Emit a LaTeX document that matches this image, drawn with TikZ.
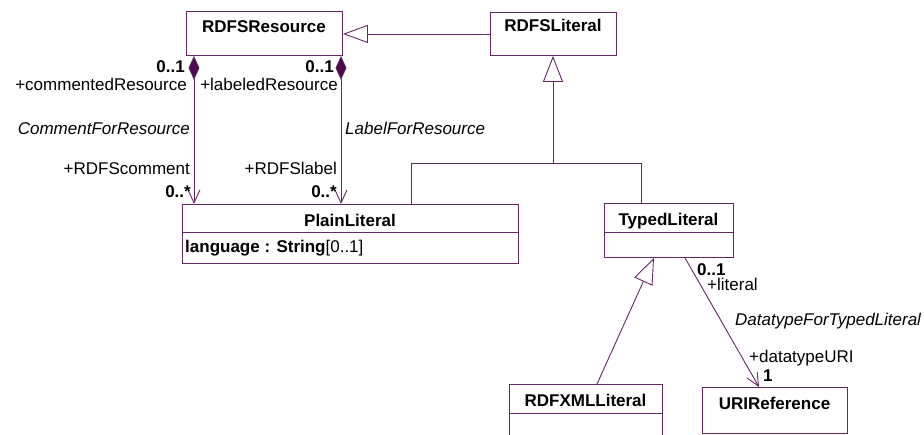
\documentclass[tikz,border=0pt]{standalone}
\usepackage{fontspec}
\setmainfont{Liberation Sans}
\usetikzlibrary{arrows.meta}
\definecolor{umlline}{RGB}{100,40,100}
\definecolor{umlfill}{RGB}{75,10,75}
\begin{document}
\begin{tikzpicture}[x=1pt,y=-1pt,
  font=\fontsize{17}{19}\selectfont,
  cls/.style={draw=umlline, line width=0.9pt, fill=white, inner sep=0pt, anchor=north west},
  ttl/.style={inner sep=0pt, font=\fontsize{17}{19}\selectfont\bfseries},
  lab/.style={inner sep=0pt},
  mult/.style={inner sep=0pt, font=\fontsize{17}{19}\selectfont\bfseries},
  rname/.style={inner sep=0pt, font=\fontsize{17}{19}\selectfont\itshape},
  conn/.style={draw=umlline, line width=0.9pt},
  gen/.style={conn, -{Triangle[open, length=26pt, width=20pt]}},
  nav/.style={conn, -{Straight Barb[length=13pt, width=12pt]}},
  comp/.style={conn, {Diamond[length=24pt, width=11pt, fill=umlfill]}-{Straight Barb[length=13pt, width=12pt]}}
]
\useasboundingbox (0,0) rectangle (924,434);
\begin{scope}
\clip (0,0) rectangle (924,434);
% classes
\node[cls, minimum width=156pt, minimum height=44pt] (res) at (186,11) {};
\node[cls, minimum width=126pt, minimum height=43pt] (lit) at (490,12) {};
\node[cls, minimum width=336pt, minimum height=59pt] (pl) at (182,204) {};
\node[cls, minimum width=129pt, minimum height=54pt] (tl) at (604,203) {};
\node[cls, minimum width=153pt, minimum height=70pt] (xml) at (509,384) {};
\node[cls, minimum width=145pt, minimum height=46pt] (uri) at (702,387) {};
% dividers
\draw[conn] (pl.west |- 0,232) -- (pl.east |- 0,232);
\draw[conn] (tl.west |- 0,232) -- (tl.east |- 0,232);
\draw[conn] (xml.west |- 0,413) -- (xml.east |- 0,413);
% titles
\node[ttl, anchor=base] (resT) at (264,32) {RDFSResource};
\node[ttl, anchor=base] (litT) at (553,31.5) {RDFSLiteral};
\node[ttl, anchor=base] (plT) at (350,226) {PlainLiteral};
\node[ttl, anchor=base] (tlT) at (668.5,225) {TypedLiteral};
\node[ttl, anchor=base] (xmlT) at (585.5,406) {RDFXMLLiteral};
\node[ttl, anchor=base] (uriT) at (774.5,409) {URIReference};
\node[lab, anchor=base west] (attr) at (185,252) {\textbf{language : String}[0..1]};
% generalizations
\draw[gen, -{Triangle[open, length=25pt, width=18pt]}] (lit.west) -- (res.east |- lit.west);
\coordinate (j) at (553,163);
\draw[conn] (pl.north -| 411,0) |- (j);
\draw[conn] (tl.north -| 641,0) |- (j);
\draw[gen] (j) -- (lit.south -| j);
\draw[gen] (xml.north -| 597,0) -- (tl.south -| 654,0);
% associations
\draw[comp] (res.south -| 194,0) -- (pl.north -| 194,0);
\draw[comp] (res.south -| 341,0) -- (pl.north -| 341,0);
\draw[nav] (tl.south -| 685,0) -- (uri.north -| 759,0);
% association labels
\node[mult, anchor=base east] (m1) at (185,72) {0..1};
\node[lab, anchor=base east] (r1) at (187,90) {+commentedResource};
\node[rname, anchor=base east] (n1) at (190,134) {CommentForResource};
\node[lab, anchor=base east] (r2) at (190,174) {+RDFScomment};
\node[mult, anchor=base east] (m2) at (191,197) {0..*};
\node[mult, anchor=base east] (m3) at (334,72) {0..1};
\node[lab, anchor=base east] (r3) at (338,90) {+labeledResource};
\node[rname, anchor=base west] (n2) at (345,134) {LabelForResource};
\node[lab, anchor=base east] (r4) at (337,174) {+RDFSlabel};
\node[mult, anchor=base east] (m4) at (337,197) {0..*};
\node[mult, anchor=base west] (m5) at (697,275) {0..1};
\node[lab, anchor=base west] (r5) at (707,290) {+literal};
\node[rname, anchor=base west] (n3) at (735,325) {DatatypeForTypedLiteral};
\node[lab, anchor=base west] (r6) at (749,362) {+datatypeURI};
\node[mult, anchor=base west] (m6) at (763,381) {1};
\end{scope}
\end{tikzpicture}
\end{document}
